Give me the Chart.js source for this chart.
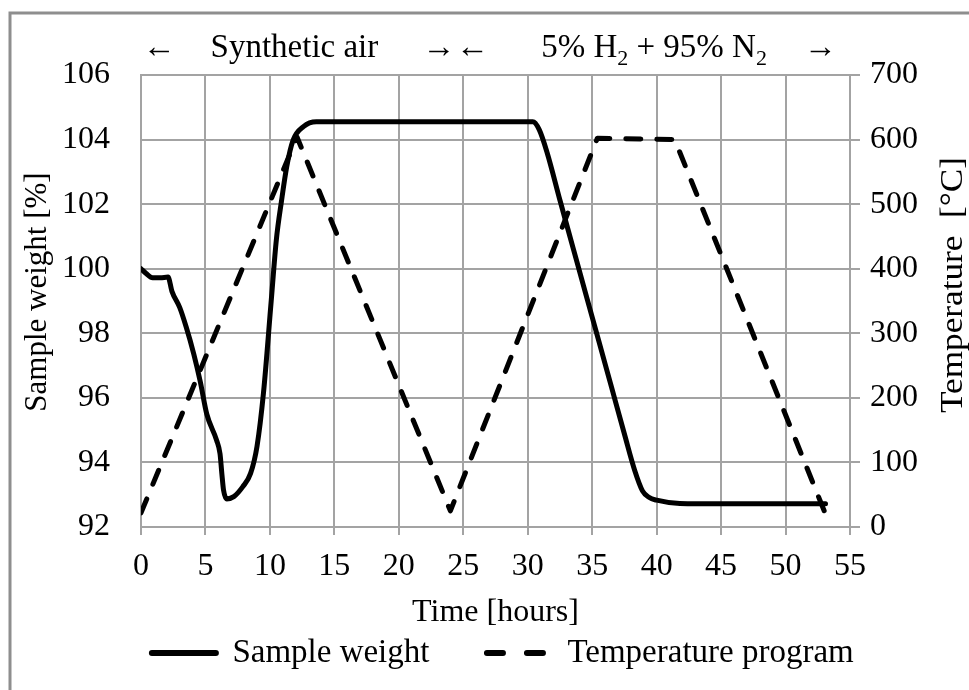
<!DOCTYPE html>
<html>
<head>
<meta charset="utf-8">
<script src="https://cdn.jsdelivr.net/npm/chart.js@4/dist/chart.umd.min.js"></script>
<style>
html,body{margin:0;padding:0;background:#fff;}
#wrap{width:969px;height:690px;position:relative;}
</style>
</head>
<body>
<div id="wrap"><canvas id="c" width="969" height="690"></canvas></div>
<script>
// ---- data ----
const weightTime   = [0, 0.4, 0.9, 1.5, 2.1, 2.4, 3.0, 3.5, 4.1, 4.6, 5.1, 5.87, 6.13, 6.27, 6.4, 6.65, 7.2, 7.9, 8.5, 9.0, 9.5, 10.1, 10.5, 10.9, 11.3, 11.8, 12.6, 13.6, 20, 25, 30.4, 30.9, 31.5, 32.5, 33.5, 34.5, 35.5, 36.5, 37.5, 38.3, 38.9, 39.4, 40.0, 41.8, 45, 53.1];
const weightValues = [100, 99.85, 99.72, 99.72, 99.74, 99.3, 98.8, 98.2, 97.35, 96.5, 95.5, 94.68, 94.27, 93.66, 93.15, 92.87, 92.94, 93.25, 93.66, 94.5, 96.15, 99.0, 100.9, 102.1, 103.15, 103.98, 104.4, 104.55, 104.55, 104.55, 104.55, 104.3, 103.6, 102.12, 100.67, 99.22, 97.78, 96.33, 94.88, 93.75, 93.12, 92.92, 92.83, 92.73, 92.72, 92.72];
const tempTime     = [0, 12.1, 24.0, 35.4, 41.4, 53.0];
const tempValues   = [22, 604, 25, 602, 600, 25];

const xTickValues      = [0, 5, 10, 15, 20, 25, 30, 35, 40, 45, 50, 55];
const weightTickValues = [92, 94, 96, 98, 100, 102, 104, 106];
const tempTickValues   = [0, 100, 200, 300, 400, 500, 600, 700];

const seriesNames = ['Sample weight', 'Temperature program'];
const xTitle  = 'Time [hours]';
const yTitle  = 'Sample weight [%]';
const y2Title = 'Temperature  [°C]';

// gas atmosphere annotation (text, position in hours); "_2" marks a subscript 2
const gasTexts = ['←', 'Synthetic air', '→', '←', '5% H_2 + 95% N_2', '→'];
const gasTimes = [1.4, 11.9, 23.1, 25.7, 39.8, 52.7];

// ---- styling ----
const F = 'Liberation Serif';
const GRID = '#a3a3a3';

function segments(str) {
  const out = [];
  const parts = str.split('_2');
  parts.forEach((p, i) => {
    if (p) out.push({ text: p, sub: false });
    if (i < parts.length - 1) out.push({ text: '2', sub: true });
  });
  return out;
}

const decor = {
  id: 'decor',
  beforeDraw(chart) {
    const ctx = chart.ctx;
    ctx.save();
    ctx.fillStyle = '#fff';
    ctx.fillRect(0, 0, chart.width, chart.height);
    ctx.strokeStyle = '#8e8e8e';
    ctx.lineWidth = 3;
    ctx.beginPath();
    ctx.moveTo(10, chart.height + 10);
    ctx.lineTo(10, 13);
    ctx.lineTo(chart.width + 10, 13);
    ctx.stroke();
    ctx.restore();
  },
  afterDraw(chart) {
    const ctx = chart.ctx;
    const xs = chart.scales.x;
    const area = chart.chartArea;
    const base = area.top - 18;
    const MAIN = '33px "' + F + '"';
    const SUB = '22px "' + F + '"';
    ctx.save();
    ctx.fillStyle = '#000';
    ctx.textBaseline = 'alphabetic';
    ctx.textAlign = 'left';
    gasTexts.forEach((txt, i) => {
      const segs = segments(txt);
      let total = 0;
      segs.forEach(s => {
        ctx.font = s.sub ? SUB : MAIN;
        s.w = ctx.measureText(s.text).width;
        total += s.w;
      });
      let x = xs.getPixelForValue(gasTimes[i]) - total / 2;
      segs.forEach(s => {
        ctx.font = s.sub ? SUB : MAIN;
        ctx.fillText(s.text, x, s.sub ? base + 8 : base);
        x += s.w;
      });
    });
    // vertical axis titles, both read bottom-to-top
    ctx.textAlign = 'center';
    ctx.textBaseline = 'middle';
    const midY = area.top + (area.bottom - area.top) / 2;
    ctx.font = '31px "' + F + '"';
    ctx.save();
    ctx.translate(38, midY - 9);
    ctx.rotate(-Math.PI / 2);
    ctx.fillText(yTitle, 0, 0);
    ctx.restore();
    ctx.font = '32px "' + F + '"';
    ctx.save();
    ctx.translate(954, midY - 16);
    ctx.rotate(-Math.PI / 2);
    ctx.scale(1.1, 1);
    ctx.fillText(y2Title, 0, 0);
    ctx.restore();
    ctx.restore();
  }
};

const tickFont = { family: F, size: 32, lineHeight: 1 };

new Chart(document.getElementById('c'), {
  type: 'line',
  data: {
    datasets: [
      {
        label: seriesNames[0],
        data: weightTime.map((t, i) => ({ x: t, y: weightValues[i] })),
        yAxisID: 'y',
        borderColor: '#000',
        backgroundColor: '#000',
        borderWidth: 5,
        pointRadius: 0,
        cubicInterpolationMode: 'monotone',
        borderCapStyle: 'round',
        borderJoinStyle: 'round',
        order: 1
      },
      {
        label: seriesNames[1],
        data: tempTime.map((t, i) => ({ x: t, y: tempValues[i] })),
        yAxisID: 'y2',
        borderColor: '#000',
        backgroundColor: '#000',
        borderWidth: 5,
        borderDash: [15, 16],
        borderCapStyle: 'round',
        borderJoinStyle: 'round',
        pointRadius: 0,
        tension: 0,
        order: 2
      }
    ]
  },
  options: {
    responsive: false,
    animation: false,
    devicePixelRatio: 1,
    layout: { padding: { top: 75, left: 0, right: 0, bottom: 10.5 } },
    plugins: {
      tooltip: { enabled: false },
      legend: {
        position: 'bottom',
        align: 'end',
        labels: {
          usePointStyle: true,
          pointStyle: 'line',
          pointStyleWidth: 64,
          padding: 8,
          color: '#000',
          font: { family: F, size: 33, lineHeight: 1 },
          generateLabels(chart) {
            const items = Chart.defaults.plugins.legend.labels.generateLabels(chart);
            items.forEach((it, i) => {
              it.pointStyle = 'line';
              it.lineWidth = 6;
              it.lineCap = 'round';
              it.lineDash = i === 1 ? [16, 24] : [];
              it.strokeStyle = '#000';
              it.text = it.text + (i === 0 ? '      ' : '             ');
            });
            return items;
          }
        }
      }
    },
    scales: {
      x: {
        type: 'linear',
        min: 0,
        max: 55,
        afterBuildTicks: s => { s.ticks = xTickValues.map(v => ({ value: v })); },
        afterFit: s => { s.height = 101.5; },
        grid: { color: GRID, lineWidth: 2, drawTicks: true, tickLength: 8 },
        border: { color: GRID, width: 2 },
        ticks: { color: '#000', padding: 16, font: tickFont, maxRotation: 0, autoSkip: false },
        title: { display: true, text: xTitle, color: '#000', font: tickFont, padding: { top: 0, bottom: 0 } }
      },
      y: {
        type: 'linear',
        position: 'left',
        min: 92,
        max: 106,
        afterBuildTicks: s => { s.ticks = weightTickValues.map(v => ({ value: v })); },
        afterFit: s => { s.width = 141; },
        grid: { color: GRID, lineWidth: 2, drawTicks: false },
        border: { color: GRID, width: 2 },
        ticks: { color: '#000', padding: 31, font: tickFont },
        title: { display: false, text: yTitle }
      },
      y2: {
        type: 'linear',
        position: 'right',
        min: 0,
        max: 700,
        afterBuildTicks: s => { s.ticks = tempTickValues.map(v => ({ value: v })); },
        afterFit: s => { s.width = 119; },
        grid: { color: GRID, lineWidth: 2, drawOnChartArea: false, drawTicks: true, tickLength: 10 },
        border: { color: GRID, width: 2 },
        ticks: { color: '#000', padding: 10, font: tickFont },
        title: { display: false, text: y2Title }
      }
    }
  },
  plugins: [decor]
});
</script>
</body>
</html>
